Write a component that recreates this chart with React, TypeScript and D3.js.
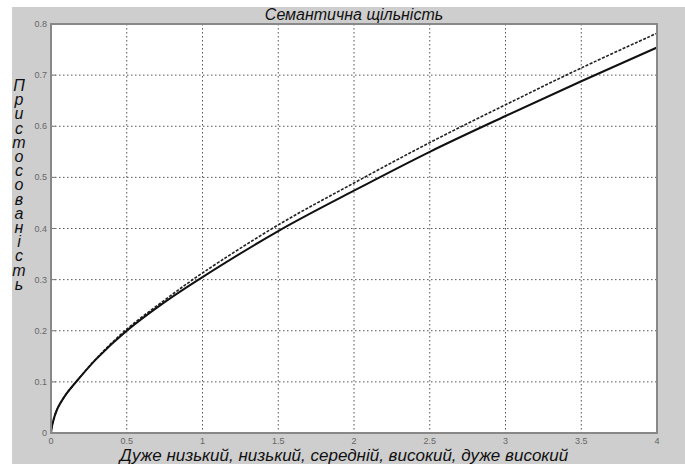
import { useEffect, useRef } from "react";
import * as d3 from "d3";

const xTicks = [0, 0.5, 1, 1.5, 2, 2.5, 3, 3.5, 4];
const yTicks = [0, 0.1, 0.2, 0.3, 0.4, 0.5, 0.6, 0.7, 0.8];

const xs = [0, 0.01, 0.04, 0.1, 0.16, 0.3, 0.5, 0.75, 1, 1.5, 2, 2.5, 3, 3.5, 4];
const solidY = [0, 0.018, 0.046, 0.076, 0.098, 0.145, 0.2, 0.256, 0.305, 0.395, 0.474, 0.55, 0.62, 0.688, 0.754];
const dashedY = [0, 0.018, 0.046, 0.076, 0.098, 0.146, 0.203, 0.26, 0.313, 0.407, 0.489, 0.568, 0.642, 0.714, 0.782];

const title = "Семантична щільність";
const xLabel = "Дуже низький, низький, середній, високий, дуже високий";
const yLabel = "Пристосованість";

const App = () => {
    const ref = useRef<SVGSVGElement>(null);

    useEffect(() => {
        const root = d3.select(ref.current);
        root.selectAll("*").remove();

        const margin = { top: 24, right: 28, bottom: 31, left: 51 };
        const W = 685, H = 464;
        const width = W - margin.left - margin.right;
        const height = H - margin.top - margin.bottom;

        // grey figure background
        root.append("rect")
            .attr("x", 12).attr("y", 7)
            .attr("width", W - 12).attr("height", H - 7)
            .attr("fill", "#cecece");

        const svg = root.append("g")
            .attr("transform", `translate(${margin.left},${margin.top})`);

        const x = d3.scaleLinear().domain([0, 4]).range([0, width]);
        const y = d3.scaleLinear().domain([0, 0.8]).range([height, 0]);

        svg.append("rect")
            .attr("width", width).attr("height", height)
            .attr("fill", "#ffffff");

        // dotted grid
        svg.selectAll(".gx")
            .data(xTicks.slice(1, -1))
            .enter().append("line")
            .attr("x1", d => x(d)).attr("x2", d => x(d))
            .attr("y1", 0).attr("y2", height)
            .attr("stroke", "#555")
            .attr("stroke-width", 1)
            .attr("stroke-dasharray", "1.5,2.5");

        svg.selectAll(".gy")
            .data(yTicks.slice(1, -1))
            .enter().append("line")
            .attr("x1", 0).attr("x2", width)
            .attr("y1", d => y(d)).attr("y2", d => y(d))
            .attr("stroke", "#555")
            .attr("stroke-width", 1)
            .attr("stroke-dasharray", "1.5,2.5");

        // tick marks
        svg.selectAll(".ty")
            .data(yTicks)
            .enter().append("line")
            .attr("x1", 0).attr("x2", 5)
            .attr("y1", d => y(d)).attr("y2", d => y(d))
            .attr("stroke", "#777");

        // tick labels
        svg.selectAll(".ly")
            .data(yTicks)
            .enter().append("text")
            .attr("x", -4)
            .attr("y", d => y(d) + 3)
            .attr("text-anchor", "end")
            .attr("font-family", "Liberation Sans, Arial, sans-serif")
            .attr("font-size", "9px")
            .attr("fill", "#666")
            .text(d => String(d));

        svg.selectAll(".lx")
            .data(xTicks)
            .enter().append("text")
            .attr("x", d => x(d))
            .attr("y", height + 11)
            .attr("text-anchor", "middle")
            .attr("font-family", "Liberation Sans, Arial, sans-serif")
            .attr("font-size", "9px")
            .attr("fill", "#666")
            .text(d => String(d));

        // curves
        const line = d3.line<number>()
            .x((_, i) => x(xs[i]))
            .y(d => y(d))
            .curve(d3.curveCatmullRom.alpha(0.5));

        svg.append("path")
            .datum(dashedY)
            .attr("d", line)
            .attr("fill", "none")
            .attr("stroke", "#222")
            .attr("stroke-width", 1.6)
            .attr("stroke-dasharray", "3,1.5");

        svg.append("path")
            .datum(solidY)
            .attr("d", line)
            .attr("fill", "none")
            .attr("stroke", "#111")
            .attr("stroke-width", 2);

        // frame
        svg.append("rect")
            .attr("width", width).attr("height", height)
            .attr("fill", "none")
            .attr("stroke", "#888")
            .attr("stroke-width", 2);

        // title
        root.append("text")
            .attr("x", 354).attr("y", 20)
            .attr("text-anchor", "middle")
            .attr("font-family", "Liberation Sans, Arial, sans-serif")
            .attr("font-style", "italic")
            .attr("font-size", "16px")
            .attr("fill", "#111")
            .text(title);

        // x label
        root.append("text")
            .attr("x", 344).attr("y", 461)
            .attr("text-anchor", "middle")
            .attr("font-family", "Liberation Sans, Arial, sans-serif")
            .attr("font-style", "italic")
            .attr("font-size", "17px")
            .attr("fill", "#111")
            .text(xLabel);

        // y label, letters stacked vertically
        root.selectAll(".yl")
            .data(Array.from(yLabel))
            .enter().append("text")
            .attr("x", 19)
            .attr("y", (_, i) => 91 + i * 14.2)
            .attr("text-anchor", "middle")
            .attr("font-family", "Liberation Sans, Arial, sans-serif")
            .attr("font-style", "italic")
            .attr("font-size", "16px")
            .attr("fill", "#111")
            .text(d => d);
    }, []);

    return (
        <svg ref={ref} width={685} height={464}
            style={{ position: "absolute", left: 0, top: 0, display: "block" }} />
    );
};

export default App;
